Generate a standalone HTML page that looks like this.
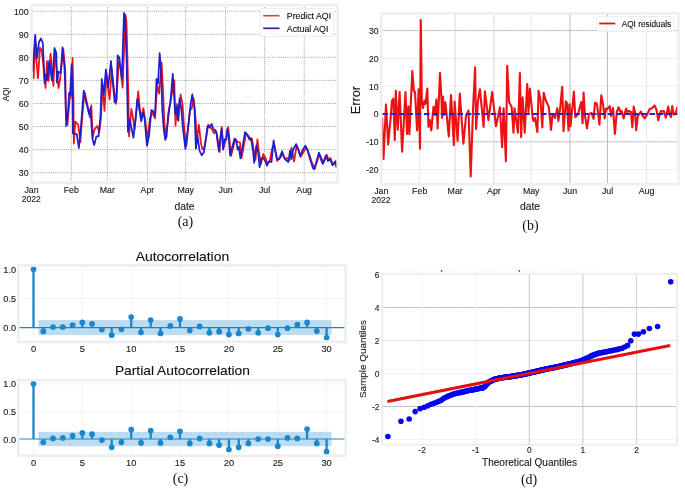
<!DOCTYPE html>
<html><head><meta charset="utf-8"><style>
html,body{margin:0;padding:0;background:#fff;width:685px;height:488px;overflow:hidden}
svg{display:block;filter:blur(0.3px)}
</style></head><body>
<svg width="685" height="488" viewBox="0 0 685 488"><g stroke="#8c8c8c" stroke-width="0.9" stroke-dasharray="0.9 1.25"><line x1="31.5" y1="172.7" x2="337.6" y2="172.7"/><line x1="31.5" y1="149.6" x2="337.6" y2="149.6"/><line x1="31.5" y1="126.5" x2="337.6" y2="126.5"/><line x1="31.5" y1="103.5" x2="337.6" y2="103.5"/><line x1="31.5" y1="80.4" x2="337.6" y2="80.4"/><line x1="31.5" y1="57.3" x2="337.6" y2="57.3"/><line x1="31.5" y1="34.3" x2="337.6" y2="34.3"/><line x1="31.5" y1="11.2" x2="337.6" y2="11.2"/><line x1="71.3" y1="5.0" x2="71.3" y2="182.7"/><line x1="107.3" y1="5.0" x2="107.3" y2="182.7"/><line x1="147.4" y1="5.0" x2="147.4" y2="182.7"/><line x1="185.7" y1="5.0" x2="185.7" y2="182.7"/><line x1="225.6" y1="5.0" x2="225.6" y2="182.7"/><line x1="264.6" y1="5.0" x2="264.6" y2="182.7"/><line x1="304.2" y1="5.0" x2="304.2" y2="182.7"/></g>
<polyline points="32.5,78.0 33.6,78.2 35.3,43.6 37.3,71.6 38.0,78.3 40.0,47.6 41.7,50.3 43.3,65.0 45.5,88.0 47.0,61.0 48.6,81.0 50.6,53.6 52.6,78.3 53.4,86.0 55.0,51.6 57.3,75.6 58.5,88.0 60.0,80.0 63.3,49.0 65.3,70.3 65.8,108.0 67.5,125.0 69.5,100.0 71.0,96.0 72.6,58.0 73.5,100.0 73.8,143.6 75.3,121.7 78.2,124.6 80.4,142.1 82.0,120.0 84.5,92.0 87.0,103.0 89.9,117.3 91.3,105.3 92.8,137.7 94.2,130.4 95.5,128.0 97.2,126.1 99.3,131.9 101.0,118.0 102.5,85.0 104.5,111.0 106.5,75.0 109.6,99.4 111.8,68.8 113.5,85.0 116.1,103.8 118.8,62.0 120.2,65.0 122.6,87.7 125.5,14.9 126.5,22.0 128.5,100.0 129.0,136.3 131.4,108.9 133.0,118.0 134.5,130.0 138.2,91.4 140.0,110.0 141.5,118.0 143.4,108.2 145.5,122.0 147.4,139.9 150.0,118.0 152.1,112.6 155.0,118.4 157.2,84.8 159.1,93.6 161.6,62.7 163.0,90.0 164.5,125.0 165.3,134.8 167.5,125.0 169.6,106.7 174.3,80.4 175.5,125.7 177.0,104.0 178.4,121.0 180.6,94.3 182.5,104.0 184.2,128.6 186.4,145.8 188.5,124.0 190.0,109.6 191.5,109.0 193.7,98.7 195.9,122.0 196.6,142.1 198.8,124.6 201.0,143.6 202.5,149.4 204.7,146.5 208.3,124.6 211.2,128.2 214.2,133.4 215.5,130.0 217.0,135.0 219.5,152.0 221.7,127.0 223.5,148.0 225.0,142.0 226.5,139.0 228.2,127.0 229.5,140.0 231.0,156.0 233.0,148.0 235.5,139.0 237.5,142.0 240.0,142.3 241.5,158.0 243.0,150.0 246.0,133.5 248.5,136.0 250.5,140.0 252.0,139.0 254.5,155.0 255.5,160.0 257.4,139.4 259.0,153.0 261.0,164.0 263.3,154.0 265.5,158.0 267.5,164.0 270.0,160.0 272.3,147.7 274.1,144.6 277.2,161.0 280.0,158.0 282.8,153.8 285.0,159.0 287.0,158.0 289.5,160.0 291.5,147.7 294.1,161.5 296.6,145.6 298.7,150.0 300.7,156.9 303.5,152.0 305.9,147.7 308.0,151.0 310.5,158.0 312.0,163.0 314.6,167.7 317.0,162.0 319.2,153.8 321.5,158.0 323.3,163.0 326.9,154.8 328.5,160.0 330.5,158.0 333.0,165.0 335.6,161.0 336.6,164.0" fill="none" stroke="#e81419" stroke-width="1.75" stroke-linejoin="round"/>
<polyline points="32.5,72.0 35.2,35.0 37.0,58.0 39.0,42.0 41.0,38.5 42.8,43.0 44.6,83.0 45.8,74.6 47.2,80.4 49.2,61.0 50.6,70.0 51.9,80.4 53.0,70.0 54.5,48.0 56.3,53.0 57.0,82.6 58.5,71.7 60.7,73.1 62.5,47.3 64.3,65.0 65.0,80.0 66.2,126.0 68.0,112.0 69.1,92.8 70.1,95.0 71.6,64.4 72.6,100.0 72.9,133.4 76.7,134.1 78.9,148.0 81.1,124.6 83.7,90.7 86.2,102.3 87.7,108.2 89.1,114.0 90.6,108.0 91.5,125.0 92.5,139.2 94.2,145.0 96.4,136.3 98.6,136.3 100.5,115.0 101.8,79.0 103.7,95.0 105.9,69.5 108.1,87.7 111.0,61.0 112.5,80.0 114.7,102.3 116.5,100.0 117.6,55.4 119.3,57.6 121.8,79.0 124.0,13.0 125.0,18.0 126.6,60.0 128.0,131.9 129.9,120.2 133.4,137.7 136.1,114.4 137.2,99.4 138.5,104.0 141.2,121.3 143.1,112.6 144.5,118.0 147.0,145.8 149.0,136.0 151.4,110.0 153.0,111.0 155.0,115.5 156.5,79.0 158.0,83.4 159.7,53.2 161.0,70.0 162.3,110.0 163.8,130.0 165.3,139.9 166.5,137.0 168.2,114.0 170.4,102.3 172.8,73.9 175.2,114.0 176.9,106.7 177.7,119.9 179.6,98.7 181.3,108.2 182.8,127.5 185.4,148.7 188.6,123.1 190.5,105.0 192.3,94.3 194.5,108.2 195.9,148.7 197.4,135.5 199.6,150.9 201.8,155.3 203.9,152.3 207.6,126.1 209.8,127.5 211.7,123.9 213.2,128.5 215.1,130.7 216.4,132.0 218.0,145.3 219.0,151.1 220.5,136.5 221.7,128.5 223.1,149.6 224.6,139.4 226.1,138.7 227.2,129.2 228.7,136.5 230.1,155.5 231.9,148.2 234.5,138.7 236.3,140.9 237.7,149.6 238.9,146.7 240.4,158.4 242.1,149.6 245.0,132.1 247.2,134.3 249.4,139.4 250.9,138.0 253.1,151.1 254.1,162.8 256.4,145.3 258.2,152.6 259.6,167.2 261.4,158.4 263.3,158.0 265.5,161.3 266.9,165.7 269.1,161.3 271.5,162.0 273.6,140.5 275.1,149.7 277.2,159.0 279.2,159.0 282.1,151.3 283.8,156.9 285.9,160.0 288.4,162.0 290.0,150.7 291.5,159.0 293.1,149.7 296.1,144.1 298.2,149.7 300.2,155.9 302.8,149.7 305.4,145.6 307.4,149.7 310.0,159.0 313.0,168.2 314.6,169.2 316.6,161.0 319.0,152.6 320.7,159.0 322.8,164.0 325.9,155.4 327.9,161.0 330.0,159.0 332.5,165.1 335.1,162.0 336.6,167.7" fill="none" stroke="#1e1ecf" stroke-width="1.75" stroke-linejoin="round"/>
<rect x="31.5" y="5.0" width="306.1" height="177.7" fill="none" stroke="#eeeeee" stroke-width="2.5"/>
<rect x="260" y="8.3" width="74" height="28" rx="2" fill="#fff" fill-opacity="0.85" stroke="#e4e4e4" stroke-width="0.8"/>
<line x1="263.2" y1="15.7" x2="279.5" y2="15.7" stroke="#e03a3a" stroke-width="1.6"/>
<line x1="263.2" y1="28.3" x2="279.5" y2="28.3" stroke="#25218a" stroke-width="1.6"/>
<text x="286.8" y="18.9" font-family='"Liberation Sans", sans-serif' font-size="8.4" fill="#111" stroke="#111" stroke-width="0.12" textLength="44.3" lengthAdjust="spacingAndGlyphs">Predict AQI</text>
<text x="286.8" y="31.5" font-family='"Liberation Sans", sans-serif' font-size="8.4" fill="#111" stroke="#111" stroke-width="0.12" textLength="41.6" lengthAdjust="spacingAndGlyphs">Actual AQI</text>
<text x="28.6" y="176.3" font-family='"Liberation Sans", sans-serif' font-size="8.8" fill="#1a1a1a" stroke="#1a1a1a" stroke-width="0.12" text-anchor="end">30</text>
<text x="28.6" y="153.3" font-family='"Liberation Sans", sans-serif' font-size="8.8" fill="#1a1a1a" stroke="#1a1a1a" stroke-width="0.12" text-anchor="end">40</text>
<text x="28.6" y="130.2" font-family='"Liberation Sans", sans-serif' font-size="8.8" fill="#1a1a1a" stroke="#1a1a1a" stroke-width="0.12" text-anchor="end">50</text>
<text x="28.6" y="107.1" font-family='"Liberation Sans", sans-serif' font-size="8.8" fill="#1a1a1a" stroke="#1a1a1a" stroke-width="0.12" text-anchor="end">60</text>
<text x="28.6" y="84.1" font-family='"Liberation Sans", sans-serif' font-size="8.8" fill="#1a1a1a" stroke="#1a1a1a" stroke-width="0.12" text-anchor="end">70</text>
<text x="28.6" y="61.0" font-family='"Liberation Sans", sans-serif' font-size="8.8" fill="#1a1a1a" stroke="#1a1a1a" stroke-width="0.12" text-anchor="end">80</text>
<text x="28.6" y="37.9" font-family='"Liberation Sans", sans-serif' font-size="8.8" fill="#1a1a1a" stroke="#1a1a1a" stroke-width="0.12" text-anchor="end">90</text>
<text x="28.6" y="14.8" font-family='"Liberation Sans", sans-serif' font-size="8.8" fill="#1a1a1a" stroke="#1a1a1a" stroke-width="0.12" text-anchor="end">100</text>
<text x="31.5" y="193.1" font-family='"Liberation Sans", sans-serif' font-size="8.8" fill="#1a1a1a" stroke="#1a1a1a" stroke-width="0.12" text-anchor="middle">Jan</text>
<text x="71.3" y="193.1" font-family='"Liberation Sans", sans-serif' font-size="8.8" fill="#1a1a1a" stroke="#1a1a1a" stroke-width="0.12" text-anchor="middle">Feb</text>
<text x="107.3" y="193.1" font-family='"Liberation Sans", sans-serif' font-size="8.8" fill="#1a1a1a" stroke="#1a1a1a" stroke-width="0.12" text-anchor="middle">Mar</text>
<text x="147.4" y="193.1" font-family='"Liberation Sans", sans-serif' font-size="8.8" fill="#1a1a1a" stroke="#1a1a1a" stroke-width="0.12" text-anchor="middle">Apr</text>
<text x="185.7" y="193.1" font-family='"Liberation Sans", sans-serif' font-size="8.8" fill="#1a1a1a" stroke="#1a1a1a" stroke-width="0.12" text-anchor="middle">May</text>
<text x="225.6" y="193.1" font-family='"Liberation Sans", sans-serif' font-size="8.8" fill="#1a1a1a" stroke="#1a1a1a" stroke-width="0.12" text-anchor="middle">Jun</text>
<text x="264.6" y="193.1" font-family='"Liberation Sans", sans-serif' font-size="8.8" fill="#1a1a1a" stroke="#1a1a1a" stroke-width="0.12" text-anchor="middle">Jul</text>
<text x="304.2" y="193.1" font-family='"Liberation Sans", sans-serif' font-size="8.8" fill="#1a1a1a" stroke="#1a1a1a" stroke-width="0.12" text-anchor="middle">Aug</text>
<text x="31.3" y="202.0" font-family='"Liberation Sans", sans-serif' font-size="8.6" fill="#1a1a1a" stroke="#1a1a1a" stroke-width="0.12" text-anchor="middle">2022</text>
<g transform="translate(9.1 94.2) rotate(-90)"><text x="0" y="0" font-family='"Liberation Sans", sans-serif' font-size="8.6" fill="#1a1a1a" stroke="#1a1a1a" stroke-width="0.12" text-anchor="middle" textLength="14" lengthAdjust="spacingAndGlyphs">AQI</text></g>
<text x="184.5" y="209.5" font-family='"Liberation Sans", sans-serif' font-size="10.4" fill="#1a1a1a" stroke="#1a1a1a" stroke-width="0.12" text-anchor="middle">date</text>
<text x="185.4" y="225.7" font-family='"Liberation Serif", serif' font-size="14" fill="#111" text-anchor="middle">(a)</text>
<line x1="381.3" y1="30.6" x2="678.5" y2="30.6" stroke="#9c9cae" stroke-width="0.8" stroke-dasharray="2.3 0.7"/>
<line x1="381.3" y1="58.4" x2="678.5" y2="58.4" stroke="#eeeef1" stroke-width="1"/>
<line x1="381.3" y1="86.2" x2="678.5" y2="86.2" stroke="#eeeef1" stroke-width="1"/>
<line x1="381.3" y1="114.0" x2="678.5" y2="114.0" stroke="#eeeef1" stroke-width="1"/>
<line x1="381.3" y1="141.8" x2="678.5" y2="141.8" stroke="#9c9cae" stroke-width="0.8" stroke-dasharray="2.3 0.7"/>
<line x1="381.3" y1="169.6" x2="678.5" y2="169.6" stroke="#eeeef1" stroke-width="1"/>
<line x1="419.7" y1="13.4" x2="419.7" y2="184.3" stroke="#e8e8ec" stroke-width="0.9"/>
<line x1="455.2" y1="13.4" x2="455.2" y2="184.3" stroke="#d2d2de" stroke-width="0.9"/>
<line x1="493.9" y1="13.4" x2="493.9" y2="184.3" stroke="#d2d2de" stroke-width="0.9"/>
<line x1="531.2" y1="13.4" x2="531.2" y2="184.3" stroke="#e8e8ec" stroke-width="0.9"/>
<line x1="570.0" y1="13.4" x2="570.0" y2="184.3" stroke="#b2b2c4" stroke-width="0.9"/>
<line x1="607.5" y1="13.4" x2="607.5" y2="184.3" stroke="#b2b2c4" stroke-width="0.9"/>
<line x1="646.5" y1="13.4" x2="646.5" y2="184.3" stroke="#e8e8ec" stroke-width="0.9"/>
<polyline points="382.1,118.0 383.5,159.0 386.0,104.5 388.2,144.4 389.7,127.0 390.4,121.0 391.9,101.0 393.3,98.7 394.8,140.0 395.8,90.7 397.7,129.8 399.6,92.1 402.1,151.7 405.5,92.1 407.0,134.0 408.4,106.4 409.4,134.2 412.3,71.0 413.8,90.7 415.0,92.0 417.1,130.5 418.6,89.2 420.0,148.8 420.8,20.0 421.8,100.9 423.0,108.0 424.4,100.9 425.5,104.0 427.3,88.5 428.4,126.9 429.8,120.0 431.3,130.5 433.5,106.7 435.0,115.0 436.4,99.4 437.6,128.4 440.0,72.8 441.5,100.0 442.0,118.0 443.0,96.5 444.0,115.0 445.4,102.3 448.8,136.4 451.0,95.0 453.9,145.1 454.6,101.6 457.6,140.8 459.8,93.6 463.4,143.7 466.0,116.0 468.5,110.4 470.7,176.5 473.0,110.0 475.1,67.3 476.1,129.0 478.0,100.9 479.9,89.2 483.6,127.0 484.9,91.4 486.8,106.7 488.4,120.0 492.2,92.1 494.1,109.6 496.0,126.3 499.9,107.4 502.1,147.3 503.6,108.2 505.9,161.2 507.2,65.8 509.1,102.3 511.6,106.7 513.5,132.7 514.5,108.2 517.9,132.7 519.9,73.1 521.1,137.1 522.6,97.2 524.7,132.7 527.2,84.1 528.5,112.0 529.9,88.5 532.8,118.4 533.5,121.0 535.0,118.0 537.4,132.0 538.6,90.7 540.5,100.0 542.3,127.4 543.7,92.8 546.0,101.0 548.8,106.7 551.0,129.8 552.5,114.0 555.0,118.0 557.3,108.2 558.3,121.0 560.0,110.0 562.2,86.7 563.5,131.2 565.8,101.3 567.0,103.0 568.5,130.5 569.5,104.2 570.5,126.1 573.9,91.8 575.3,117.3 578.0,114.0 581.2,102.0 582.6,123.2 583.6,92.5 585.0,116.0 587.0,128.3 589.0,114.0 591.5,113.0 593.6,118.8 595.0,102.7 597.0,104.0 599.4,124.6 601.3,95.4 603.0,104.0 604.7,118.4 606.0,108.5 607.5,109.0 609.7,106.0 611.0,116.0 613.0,107.9 614.9,134.0 616.8,112.0 618.6,107.3 620.5,112.0 621.7,111.0 623.6,118.4 626.1,108.5 627.3,112.0 629.0,111.0 631.0,112.0 632.3,127.1 633.7,106.6 635.0,112.0 636.2,130.2 637.8,116.0 639.7,113.5 640.9,111.6 642.8,116.0 644.7,118.4 647.0,114.7 649.6,109.1 651.5,108.5 654.6,105.4 656.5,110.0 658.3,120.3 660.8,111.0 662.7,111.6 663.9,111.0 665.8,117.8 668.2,106.6 669.5,113.5 671.0,117.2 672.2,106.0 673.8,114.7 675.7,113.5 677.5,106.6" fill="none" stroke="#ec1212" stroke-width="2.1" stroke-linejoin="round"/>
<line x1="382.3" y1="114" x2="678.5" y2="114" stroke="#2a22c0" stroke-width="2.1" stroke-dasharray="5.55 2.8"/>
<rect x="381.3" y="13.4" width="297.2" height="170.9" fill="none" stroke="#eeeeee" stroke-width="2.4"/>
<rect x="596.6" y="16.6" width="77.7" height="14.8" rx="2" fill="#fff" fill-opacity="0.85" stroke="#e6e6e6" stroke-width="0.8"/>
<line x1="599.2" y1="23.5" x2="615.3" y2="23.5" stroke="#d01a1a" stroke-width="1.8"/>
<text x="621.7" y="27.0" font-family='"Liberation Sans", sans-serif' font-size="8.4" fill="#111" stroke="#111" stroke-width="0.12" textLength="49.5" lengthAdjust="spacingAndGlyphs">AQI residuals</text>
<text x="378.6" y="33.9" font-family='"Liberation Sans", sans-serif' font-size="8.6" fill="#1a1a1a" stroke="#1a1a1a" stroke-width="0.12" text-anchor="end">30</text>
<text x="378.6" y="61.7" font-family='"Liberation Sans", sans-serif' font-size="8.6" fill="#1a1a1a" stroke="#1a1a1a" stroke-width="0.12" text-anchor="end">20</text>
<text x="378.6" y="89.5" font-family='"Liberation Sans", sans-serif' font-size="8.6" fill="#1a1a1a" stroke="#1a1a1a" stroke-width="0.12" text-anchor="end">10</text>
<text x="378.6" y="117.3" font-family='"Liberation Sans", sans-serif' font-size="8.6" fill="#1a1a1a" stroke="#1a1a1a" stroke-width="0.12" text-anchor="end">0</text>
<text x="378.6" y="145.1" font-family='"Liberation Sans", sans-serif' font-size="8.6" fill="#1a1a1a" stroke="#1a1a1a" stroke-width="0.12" text-anchor="end">-10</text>
<text x="378.6" y="172.9" font-family='"Liberation Sans", sans-serif' font-size="8.6" fill="#1a1a1a" stroke="#1a1a1a" stroke-width="0.12" text-anchor="end">-20</text>
<text x="381.3" y="194.3" font-family='"Liberation Sans", sans-serif' font-size="8.8" fill="#1a1a1a" stroke="#1a1a1a" stroke-width="0.12" text-anchor="middle">Jan</text>
<text x="419.7" y="194.3" font-family='"Liberation Sans", sans-serif' font-size="8.8" fill="#1a1a1a" stroke="#1a1a1a" stroke-width="0.12" text-anchor="middle">Feb</text>
<text x="455.2" y="194.3" font-family='"Liberation Sans", sans-serif' font-size="8.8" fill="#1a1a1a" stroke="#1a1a1a" stroke-width="0.12" text-anchor="middle">Mar</text>
<text x="493.9" y="194.3" font-family='"Liberation Sans", sans-serif' font-size="8.8" fill="#1a1a1a" stroke="#1a1a1a" stroke-width="0.12" text-anchor="middle">Apr</text>
<text x="531.2" y="194.3" font-family='"Liberation Sans", sans-serif' font-size="8.8" fill="#1a1a1a" stroke="#1a1a1a" stroke-width="0.12" text-anchor="middle">May</text>
<text x="570.0" y="194.3" font-family='"Liberation Sans", sans-serif' font-size="8.8" fill="#1a1a1a" stroke="#1a1a1a" stroke-width="0.12" text-anchor="middle">Jun</text>
<text x="607.5" y="194.3" font-family='"Liberation Sans", sans-serif' font-size="8.8" fill="#1a1a1a" stroke="#1a1a1a" stroke-width="0.12" text-anchor="middle">Jul</text>
<text x="646.5" y="194.3" font-family='"Liberation Sans", sans-serif' font-size="8.8" fill="#1a1a1a" stroke="#1a1a1a" stroke-width="0.12" text-anchor="middle">Aug</text>
<text x="381.1" y="203.4" font-family='"Liberation Sans", sans-serif' font-size="8.6" fill="#1a1a1a" stroke="#1a1a1a" stroke-width="0.12" text-anchor="middle">2022</text>
<g transform="translate(360.3 100.1) rotate(-90)"><text x="0" y="0" font-family='"Liberation Sans", sans-serif' font-size="12.6" fill="#1a1a1a" stroke="#1a1a1a" stroke-width="0.12" text-anchor="middle" textLength="28.5" lengthAdjust="spacingAndGlyphs">Error</text></g>
<text x="530" y="210.4" font-family='"Liberation Sans", sans-serif' font-size="10.4" fill="#1a1a1a" stroke="#1a1a1a" stroke-width="0.12" text-anchor="middle">date</text>
<text x="530.5" y="230.4" font-family='"Liberation Serif", serif' font-size="14" fill="#111" text-anchor="middle">(b)</text>
<line x1="33.5" y1="265.4" x2="33.5" y2="341.9" stroke="#f2f2f2" stroke-width="0.9"/>
<line x1="82.3" y1="265.4" x2="82.3" y2="341.9" stroke="#f2f2f2" stroke-width="0.9"/>
<line x1="131.2" y1="265.4" x2="131.2" y2="341.9" stroke="#f2f2f2" stroke-width="0.9"/>
<line x1="180.0" y1="265.4" x2="180.0" y2="341.9" stroke="#f2f2f2" stroke-width="0.9"/>
<line x1="228.9" y1="265.4" x2="228.9" y2="341.9" stroke="#f2f2f2" stroke-width="0.9"/>
<line x1="277.8" y1="265.4" x2="277.8" y2="341.9" stroke="#f2f2f2" stroke-width="0.9"/>
<line x1="326.6" y1="265.4" x2="326.6" y2="341.9" stroke="#f2f2f2" stroke-width="0.9"/>
<line x1="18.3" y1="298.5" x2="345.6" y2="298.5" stroke="#f2f2f2" stroke-width="0.9"/>
<line x1="18.3" y1="269.3" x2="345.6" y2="269.3" stroke="#f2f2f2" stroke-width="0.9"/>
<rect x="38.4" y="320.1" width="293.1" height="15.0" fill="#bcdcf1"/>
<line x1="18.3" y1="327.6" x2="345.6" y2="327.6" stroke="#1a86cc" stroke-width="1.1"/>
<line x1="33.5" y1="327.6" x2="33.5" y2="269.3" stroke="#1a86cc" stroke-width="2.3"/>
<circle cx="33.5" cy="269.3" r="2.85" fill="#1a86cc"/>
<line x1="43.3" y1="327.6" x2="43.3" y2="331.4" stroke="#1a86cc" stroke-width="2.3"/>
<circle cx="43.3" cy="331.4" r="2.85" fill="#1a86cc"/>
<line x1="53.0" y1="327.6" x2="53.0" y2="327.0" stroke="#1a86cc" stroke-width="2.3"/>
<circle cx="53.0" cy="327.0" r="2.85" fill="#1a86cc"/>
<line x1="62.8" y1="327.6" x2="62.8" y2="327.0" stroke="#1a86cc" stroke-width="2.3"/>
<circle cx="62.8" cy="327.0" r="2.85" fill="#1a86cc"/>
<line x1="72.6" y1="327.6" x2="72.6" y2="325.0" stroke="#1a86cc" stroke-width="2.3"/>
<circle cx="72.6" cy="325.0" r="2.85" fill="#1a86cc"/>
<line x1="82.3" y1="327.6" x2="82.3" y2="322.4" stroke="#1a86cc" stroke-width="2.3"/>
<circle cx="82.3" cy="322.4" r="2.85" fill="#1a86cc"/>
<line x1="92.1" y1="327.6" x2="92.1" y2="323.8" stroke="#1a86cc" stroke-width="2.3"/>
<circle cx="92.1" cy="323.8" r="2.85" fill="#1a86cc"/>
<line x1="101.9" y1="327.6" x2="101.9" y2="329.6" stroke="#1a86cc" stroke-width="2.3"/>
<circle cx="101.9" cy="329.6" r="2.85" fill="#1a86cc"/>
<line x1="111.7" y1="327.6" x2="111.7" y2="335.2" stroke="#1a86cc" stroke-width="2.3"/>
<circle cx="111.7" cy="335.2" r="2.85" fill="#1a86cc"/>
<line x1="121.4" y1="327.6" x2="121.4" y2="329.3" stroke="#1a86cc" stroke-width="2.3"/>
<circle cx="121.4" cy="329.3" r="2.85" fill="#1a86cc"/>
<line x1="131.2" y1="327.6" x2="131.2" y2="317.1" stroke="#1a86cc" stroke-width="2.3"/>
<circle cx="131.2" cy="317.1" r="2.85" fill="#1a86cc"/>
<line x1="141.0" y1="327.6" x2="141.0" y2="332.3" stroke="#1a86cc" stroke-width="2.3"/>
<circle cx="141.0" cy="332.3" r="2.85" fill="#1a86cc"/>
<line x1="150.7" y1="327.6" x2="150.7" y2="320.0" stroke="#1a86cc" stroke-width="2.3"/>
<circle cx="150.7" cy="320.0" r="2.85" fill="#1a86cc"/>
<line x1="160.5" y1="327.6" x2="160.5" y2="333.4" stroke="#1a86cc" stroke-width="2.3"/>
<circle cx="160.5" cy="333.4" r="2.85" fill="#1a86cc"/>
<line x1="170.3" y1="327.6" x2="170.3" y2="325.9" stroke="#1a86cc" stroke-width="2.3"/>
<circle cx="170.3" cy="325.9" r="2.85" fill="#1a86cc"/>
<line x1="180.0" y1="327.6" x2="180.0" y2="318.9" stroke="#1a86cc" stroke-width="2.3"/>
<circle cx="180.0" cy="318.9" r="2.85" fill="#1a86cc"/>
<line x1="189.8" y1="327.6" x2="189.8" y2="330.5" stroke="#1a86cc" stroke-width="2.3"/>
<circle cx="189.8" cy="330.5" r="2.85" fill="#1a86cc"/>
<line x1="199.6" y1="327.6" x2="199.6" y2="326.4" stroke="#1a86cc" stroke-width="2.3"/>
<circle cx="199.6" cy="326.4" r="2.85" fill="#1a86cc"/>
<line x1="209.4" y1="327.6" x2="209.4" y2="332.8" stroke="#1a86cc" stroke-width="2.3"/>
<circle cx="209.4" cy="332.8" r="2.85" fill="#1a86cc"/>
<line x1="219.1" y1="327.6" x2="219.1" y2="331.7" stroke="#1a86cc" stroke-width="2.3"/>
<circle cx="219.1" cy="331.7" r="2.85" fill="#1a86cc"/>
<line x1="228.9" y1="327.6" x2="228.9" y2="334.6" stroke="#1a86cc" stroke-width="2.3"/>
<circle cx="228.9" cy="334.6" r="2.85" fill="#1a86cc"/>
<line x1="238.7" y1="327.6" x2="238.7" y2="333.4" stroke="#1a86cc" stroke-width="2.3"/>
<circle cx="238.7" cy="333.4" r="2.85" fill="#1a86cc"/>
<line x1="248.4" y1="327.6" x2="248.4" y2="328.8" stroke="#1a86cc" stroke-width="2.3"/>
<circle cx="248.4" cy="328.8" r="2.85" fill="#1a86cc"/>
<line x1="258.2" y1="327.6" x2="258.2" y2="332.8" stroke="#1a86cc" stroke-width="2.3"/>
<circle cx="258.2" cy="332.8" r="2.85" fill="#1a86cc"/>
<line x1="268.0" y1="327.6" x2="268.0" y2="328.2" stroke="#1a86cc" stroke-width="2.3"/>
<circle cx="268.0" cy="328.2" r="2.85" fill="#1a86cc"/>
<line x1="277.8" y1="327.6" x2="277.8" y2="334.6" stroke="#1a86cc" stroke-width="2.3"/>
<circle cx="277.8" cy="334.6" r="2.85" fill="#1a86cc"/>
<line x1="287.5" y1="327.6" x2="287.5" y2="328.2" stroke="#1a86cc" stroke-width="2.3"/>
<circle cx="287.5" cy="328.2" r="2.85" fill="#1a86cc"/>
<line x1="297.3" y1="327.6" x2="297.3" y2="324.7" stroke="#1a86cc" stroke-width="2.3"/>
<circle cx="297.3" cy="324.7" r="2.85" fill="#1a86cc"/>
<line x1="307.1" y1="327.6" x2="307.1" y2="322.4" stroke="#1a86cc" stroke-width="2.3"/>
<circle cx="307.1" cy="322.4" r="2.85" fill="#1a86cc"/>
<line x1="316.8" y1="327.6" x2="316.8" y2="331.1" stroke="#1a86cc" stroke-width="2.3"/>
<circle cx="316.8" cy="331.1" r="2.85" fill="#1a86cc"/>
<line x1="326.6" y1="327.6" x2="326.6" y2="337.5" stroke="#1a86cc" stroke-width="2.3"/>
<circle cx="326.6" cy="337.5" r="2.85" fill="#1a86cc"/>
<rect x="18.3" y="265.4" width="327.3" height="76.5" fill="none" stroke="#eeeeee" stroke-width="2.6"/>
<text x="16.0" y="272.9" font-family='"Liberation Sans", sans-serif' font-size="9.1" fill="#1a1a1a" stroke="#1a1a1a" stroke-width="0.12" text-anchor="end">1.0</text>
<text x="16.0" y="302.1" font-family='"Liberation Sans", sans-serif' font-size="9.1" fill="#1a1a1a" stroke="#1a1a1a" stroke-width="0.12" text-anchor="end">0.5</text>
<text x="16.0" y="331.2" font-family='"Liberation Sans", sans-serif' font-size="9.1" fill="#1a1a1a" stroke="#1a1a1a" stroke-width="0.12" text-anchor="end">0.0</text>
<text x="33.5" y="351.7" font-family='"Liberation Sans", sans-serif' font-size="9.3" fill="#1a1a1a" stroke="#1a1a1a" stroke-width="0.12" text-anchor="middle">0</text>
<text x="82.3" y="351.7" font-family='"Liberation Sans", sans-serif' font-size="9.3" fill="#1a1a1a" stroke="#1a1a1a" stroke-width="0.12" text-anchor="middle">5</text>
<text x="131.2" y="351.7" font-family='"Liberation Sans", sans-serif' font-size="9.3" fill="#1a1a1a" stroke="#1a1a1a" stroke-width="0.12" text-anchor="middle">10</text>
<text x="180.0" y="351.7" font-family='"Liberation Sans", sans-serif' font-size="9.3" fill="#1a1a1a" stroke="#1a1a1a" stroke-width="0.12" text-anchor="middle">15</text>
<text x="228.9" y="351.7" font-family='"Liberation Sans", sans-serif' font-size="9.3" fill="#1a1a1a" stroke="#1a1a1a" stroke-width="0.12" text-anchor="middle">20</text>
<text x="277.8" y="351.7" font-family='"Liberation Sans", sans-serif' font-size="9.3" fill="#1a1a1a" stroke="#1a1a1a" stroke-width="0.12" text-anchor="middle">25</text>
<text x="326.6" y="351.7" font-family='"Liberation Sans", sans-serif' font-size="9.3" fill="#1a1a1a" stroke="#1a1a1a" stroke-width="0.12" text-anchor="middle">30</text>
<text x="182.4" y="260.7" font-family='"Liberation Sans", sans-serif' font-size="13.6" fill="#111" stroke="#111" stroke-width="0.12" text-anchor="middle" textLength="93.5" lengthAdjust="spacingAndGlyphs">Autocorrelation</text>
<line x1="33.5" y1="380.0" x2="33.5" y2="455.6" stroke="#f2f2f2" stroke-width="0.9"/>
<line x1="82.3" y1="380.0" x2="82.3" y2="455.6" stroke="#f2f2f2" stroke-width="0.9"/>
<line x1="131.2" y1="380.0" x2="131.2" y2="455.6" stroke="#f2f2f2" stroke-width="0.9"/>
<line x1="180.0" y1="380.0" x2="180.0" y2="455.6" stroke="#f2f2f2" stroke-width="0.9"/>
<line x1="228.9" y1="380.0" x2="228.9" y2="455.6" stroke="#f2f2f2" stroke-width="0.9"/>
<line x1="277.8" y1="380.0" x2="277.8" y2="455.6" stroke="#f2f2f2" stroke-width="0.9"/>
<line x1="326.6" y1="380.0" x2="326.6" y2="455.6" stroke="#f2f2f2" stroke-width="0.9"/>
<line x1="18.3" y1="411.4" x2="345.6" y2="411.4" stroke="#f2f2f2" stroke-width="0.9"/>
<line x1="18.3" y1="383.8" x2="345.6" y2="383.8" stroke="#f2f2f2" stroke-width="0.9"/>
<rect x="38.4" y="431.8" width="293.1" height="14.4" fill="#bcdcf1"/>
<line x1="18.3" y1="439.0" x2="345.6" y2="439.0" stroke="#1a86cc" stroke-width="1.1"/>
<line x1="33.5" y1="439.0" x2="33.5" y2="383.8" stroke="#1a86cc" stroke-width="2.3"/>
<circle cx="33.5" cy="383.8" r="2.85" fill="#1a86cc"/>
<line x1="43.3" y1="439.0" x2="43.3" y2="442.3" stroke="#1a86cc" stroke-width="2.3"/>
<circle cx="43.3" cy="442.3" r="2.85" fill="#1a86cc"/>
<line x1="53.0" y1="439.0" x2="53.0" y2="438.4" stroke="#1a86cc" stroke-width="2.3"/>
<circle cx="53.0" cy="438.4" r="2.85" fill="#1a86cc"/>
<line x1="62.8" y1="439.0" x2="62.8" y2="437.9" stroke="#1a86cc" stroke-width="2.3"/>
<circle cx="62.8" cy="437.9" r="2.85" fill="#1a86cc"/>
<line x1="72.6" y1="439.0" x2="72.6" y2="435.7" stroke="#1a86cc" stroke-width="2.3"/>
<circle cx="72.6" cy="435.7" r="2.85" fill="#1a86cc"/>
<line x1="82.3" y1="439.0" x2="82.3" y2="432.9" stroke="#1a86cc" stroke-width="2.3"/>
<circle cx="82.3" cy="432.9" r="2.85" fill="#1a86cc"/>
<line x1="92.1" y1="439.0" x2="92.1" y2="434.0" stroke="#1a86cc" stroke-width="2.3"/>
<circle cx="92.1" cy="434.0" r="2.85" fill="#1a86cc"/>
<line x1="101.9" y1="439.0" x2="101.9" y2="440.1" stroke="#1a86cc" stroke-width="2.3"/>
<circle cx="101.9" cy="440.1" r="2.85" fill="#1a86cc"/>
<line x1="111.7" y1="439.0" x2="111.7" y2="447.3" stroke="#1a86cc" stroke-width="2.3"/>
<circle cx="111.7" cy="447.3" r="2.85" fill="#1a86cc"/>
<line x1="121.4" y1="439.0" x2="121.4" y2="442.3" stroke="#1a86cc" stroke-width="2.3"/>
<circle cx="121.4" cy="442.3" r="2.85" fill="#1a86cc"/>
<line x1="131.2" y1="439.0" x2="131.2" y2="429.6" stroke="#1a86cc" stroke-width="2.3"/>
<circle cx="131.2" cy="429.6" r="2.85" fill="#1a86cc"/>
<line x1="141.0" y1="439.0" x2="141.0" y2="442.9" stroke="#1a86cc" stroke-width="2.3"/>
<circle cx="141.0" cy="442.9" r="2.85" fill="#1a86cc"/>
<line x1="150.7" y1="439.0" x2="150.7" y2="430.7" stroke="#1a86cc" stroke-width="2.3"/>
<circle cx="150.7" cy="430.7" r="2.85" fill="#1a86cc"/>
<line x1="160.5" y1="439.0" x2="160.5" y2="442.9" stroke="#1a86cc" stroke-width="2.3"/>
<circle cx="160.5" cy="442.9" r="2.85" fill="#1a86cc"/>
<line x1="170.3" y1="439.0" x2="170.3" y2="437.3" stroke="#1a86cc" stroke-width="2.3"/>
<circle cx="170.3" cy="437.3" r="2.85" fill="#1a86cc"/>
<line x1="180.0" y1="439.0" x2="180.0" y2="431.3" stroke="#1a86cc" stroke-width="2.3"/>
<circle cx="180.0" cy="431.3" r="2.85" fill="#1a86cc"/>
<line x1="189.8" y1="439.0" x2="189.8" y2="443.4" stroke="#1a86cc" stroke-width="2.3"/>
<circle cx="189.8" cy="443.4" r="2.85" fill="#1a86cc"/>
<line x1="199.6" y1="439.0" x2="199.6" y2="438.4" stroke="#1a86cc" stroke-width="2.3"/>
<circle cx="199.6" cy="438.4" r="2.85" fill="#1a86cc"/>
<line x1="209.4" y1="439.0" x2="209.4" y2="443.4" stroke="#1a86cc" stroke-width="2.3"/>
<circle cx="209.4" cy="443.4" r="2.85" fill="#1a86cc"/>
<line x1="219.1" y1="439.0" x2="219.1" y2="445.1" stroke="#1a86cc" stroke-width="2.3"/>
<circle cx="219.1" cy="445.1" r="2.85" fill="#1a86cc"/>
<line x1="228.9" y1="439.0" x2="228.9" y2="449.5" stroke="#1a86cc" stroke-width="2.3"/>
<circle cx="228.9" cy="449.5" r="2.85" fill="#1a86cc"/>
<line x1="238.7" y1="439.0" x2="238.7" y2="447.3" stroke="#1a86cc" stroke-width="2.3"/>
<circle cx="238.7" cy="447.3" r="2.85" fill="#1a86cc"/>
<line x1="248.4" y1="439.0" x2="248.4" y2="443.4" stroke="#1a86cc" stroke-width="2.3"/>
<circle cx="248.4" cy="443.4" r="2.85" fill="#1a86cc"/>
<line x1="258.2" y1="439.0" x2="258.2" y2="439.0" stroke="#1a86cc" stroke-width="2.3"/>
<circle cx="258.2" cy="439.0" r="2.85" fill="#1a86cc"/>
<line x1="268.0" y1="439.0" x2="268.0" y2="439.0" stroke="#1a86cc" stroke-width="2.3"/>
<circle cx="268.0" cy="439.0" r="2.85" fill="#1a86cc"/>
<line x1="277.8" y1="439.0" x2="277.8" y2="446.2" stroke="#1a86cc" stroke-width="2.3"/>
<circle cx="277.8" cy="446.2" r="2.85" fill="#1a86cc"/>
<line x1="287.5" y1="439.0" x2="287.5" y2="437.9" stroke="#1a86cc" stroke-width="2.3"/>
<circle cx="287.5" cy="437.9" r="2.85" fill="#1a86cc"/>
<line x1="297.3" y1="439.0" x2="297.3" y2="438.4" stroke="#1a86cc" stroke-width="2.3"/>
<circle cx="297.3" cy="438.4" r="2.85" fill="#1a86cc"/>
<line x1="307.1" y1="439.0" x2="307.1" y2="429.1" stroke="#1a86cc" stroke-width="2.3"/>
<circle cx="307.1" cy="429.1" r="2.85" fill="#1a86cc"/>
<line x1="316.8" y1="439.0" x2="316.8" y2="443.4" stroke="#1a86cc" stroke-width="2.3"/>
<circle cx="316.8" cy="443.4" r="2.85" fill="#1a86cc"/>
<line x1="326.6" y1="439.0" x2="326.6" y2="451.7" stroke="#1a86cc" stroke-width="2.3"/>
<circle cx="326.6" cy="451.7" r="2.85" fill="#1a86cc"/>
<rect x="18.3" y="380.0" width="327.3" height="75.6" fill="none" stroke="#eeeeee" stroke-width="2.6"/>
<text x="16.0" y="387.4" font-family='"Liberation Sans", sans-serif' font-size="9.1" fill="#1a1a1a" stroke="#1a1a1a" stroke-width="0.12" text-anchor="end">1.0</text>
<text x="16.0" y="415.0" font-family='"Liberation Sans", sans-serif' font-size="9.1" fill="#1a1a1a" stroke="#1a1a1a" stroke-width="0.12" text-anchor="end">0.5</text>
<text x="16.0" y="442.6" font-family='"Liberation Sans", sans-serif' font-size="9.1" fill="#1a1a1a" stroke="#1a1a1a" stroke-width="0.12" text-anchor="end">0.0</text>
<text x="33.5" y="466.4" font-family='"Liberation Sans", sans-serif' font-size="9.3" fill="#1a1a1a" stroke="#1a1a1a" stroke-width="0.12" text-anchor="middle">0</text>
<text x="82.3" y="466.4" font-family='"Liberation Sans", sans-serif' font-size="9.3" fill="#1a1a1a" stroke="#1a1a1a" stroke-width="0.12" text-anchor="middle">5</text>
<text x="131.2" y="466.4" font-family='"Liberation Sans", sans-serif' font-size="9.3" fill="#1a1a1a" stroke="#1a1a1a" stroke-width="0.12" text-anchor="middle">10</text>
<text x="180.0" y="466.4" font-family='"Liberation Sans", sans-serif' font-size="9.3" fill="#1a1a1a" stroke="#1a1a1a" stroke-width="0.12" text-anchor="middle">15</text>
<text x="228.9" y="466.4" font-family='"Liberation Sans", sans-serif' font-size="9.3" fill="#1a1a1a" stroke="#1a1a1a" stroke-width="0.12" text-anchor="middle">20</text>
<text x="277.8" y="466.4" font-family='"Liberation Sans", sans-serif' font-size="9.3" fill="#1a1a1a" stroke="#1a1a1a" stroke-width="0.12" text-anchor="middle">25</text>
<text x="326.6" y="466.4" font-family='"Liberation Sans", sans-serif' font-size="9.3" fill="#1a1a1a" stroke="#1a1a1a" stroke-width="0.12" text-anchor="middle">30</text>
<text x="182.4" y="374.9" font-family='"Liberation Sans", sans-serif' font-size="13.6" fill="#111" stroke="#111" stroke-width="0.12" text-anchor="middle" textLength="135" lengthAdjust="spacingAndGlyphs">Partial Autocorrelation</text>
<text x="180.5" y="482.6" font-family='"Liberation Serif", serif' font-size="14" fill="#111" text-anchor="middle">(c)</text>
<line x1="382.2" y1="307.5" x2="677.0" y2="307.5" stroke="#9c9cae" stroke-width="0.8" stroke-dasharray="2.3 0.7"/>
<line x1="382.2" y1="340.5" x2="677.0" y2="340.5" stroke="#dcdce4" stroke-width="0.9"/>
<line x1="382.2" y1="373.5" x2="677.0" y2="373.5" stroke="#efeff2" stroke-width="0.9"/>
<line x1="382.2" y1="406.5" x2="677.0" y2="406.5" stroke="#9c9cae" stroke-width="0.8" stroke-dasharray="2.3 0.7"/>
<line x1="382.2" y1="439.5" x2="677.0" y2="439.5" stroke="#efeff2" stroke-width="0.9"/>
<line x1="382.2" y1="274.5" x2="677.0" y2="274.5" stroke="#efeff2" stroke-width="0.9"/>
<line x1="422.1" y1="273.8" x2="422.1" y2="444.7" stroke="#f3f3f6" stroke-width="0.9"/>
<line x1="475.7" y1="273.8" x2="475.7" y2="444.7" stroke="#f3f3f6" stroke-width="0.9"/>
<line x1="529.3" y1="273.8" x2="529.3" y2="444.7" stroke="#bcbccc" stroke-width="0.9"/>
<line x1="582.9" y1="273.8" x2="582.9" y2="444.7" stroke="#bcbccc" stroke-width="0.9"/>
<line x1="636.5" y1="273.8" x2="636.5" y2="444.7" stroke="#d0d0dc" stroke-width="0.9"/>
<g fill="#0404ec"><circle cx="387.9" cy="436.5" r="2.8"/><circle cx="401.0" cy="421.2" r="2.8"/><circle cx="409.2" cy="419.0" r="2.8"/><circle cx="415.2" cy="411.6" r="2.8"/><circle cx="420.1" cy="408.6" r="2.8"/><circle cx="424.2" cy="407.3" r="2.8"/><circle cx="427.8" cy="405.7" r="2.8"/><circle cx="431.0" cy="404.3" r="2.8"/><circle cx="433.9" cy="403.2" r="2.8"/><circle cx="436.5" cy="402.2" r="2.8"/><circle cx="438.9" cy="401.3" r="2.8"/><circle cx="441.1" cy="400.3" r="2.8"/><circle cx="443.2" cy="398.8" r="2.8"/><circle cx="445.2" cy="397.5" r="2.8"/><circle cx="447.1" cy="396.7" r="2.8"/><circle cx="448.8" cy="395.9" r="2.8"/><circle cx="450.5" cy="395.2" r="2.8"/><circle cx="452.1" cy="394.6" r="2.8"/><circle cx="453.7" cy="394.0" r="2.8"/><circle cx="455.2" cy="393.6" r="2.8"/><circle cx="456.6" cy="393.3" r="2.8"/><circle cx="458.0" cy="393.0" r="2.8"/><circle cx="459.3" cy="392.7" r="2.8"/><circle cx="460.6" cy="392.4" r="2.8"/><circle cx="461.9" cy="392.2" r="2.8"/><circle cx="463.1" cy="391.9" r="2.8"/><circle cx="464.3" cy="391.6" r="2.8"/><circle cx="465.4" cy="391.3" r="2.8"/><circle cx="466.5" cy="391.0" r="2.8"/><circle cx="467.6" cy="390.7" r="2.8"/><circle cx="468.7" cy="390.5" r="2.8"/><circle cx="469.8" cy="390.2" r="2.8"/><circle cx="470.8" cy="390.1" r="2.8"/><circle cx="471.8" cy="389.9" r="2.8"/><circle cx="472.8" cy="389.7" r="2.8"/><circle cx="473.7" cy="389.5" r="2.8"/><circle cx="474.7" cy="389.4" r="2.8"/><circle cx="475.6" cy="389.2" r="2.8"/><circle cx="476.5" cy="389.0" r="2.8"/><circle cx="477.4" cy="388.8" r="2.8"/><circle cx="478.3" cy="388.6" r="2.8"/><circle cx="479.2" cy="388.5" r="2.8"/><circle cx="480.1" cy="388.3" r="2.8"/><circle cx="480.9" cy="388.1" r="2.8"/><circle cx="481.7" cy="387.9" r="2.8"/><circle cx="482.6" cy="387.8" r="2.8"/><circle cx="483.4" cy="387.6" r="2.8"/><circle cx="484.2" cy="387.0" r="2.8"/><circle cx="485.0" cy="386.2" r="2.8"/><circle cx="485.8" cy="385.3" r="2.8"/><circle cx="486.5" cy="384.5" r="2.8"/><circle cx="487.3" cy="383.6" r="2.8"/><circle cx="488.1" cy="382.8" r="2.8"/><circle cx="488.8" cy="382.1" r="2.8"/><circle cx="489.6" cy="381.8" r="2.8"/><circle cx="490.3" cy="381.4" r="2.8"/><circle cx="491.0" cy="381.0" r="2.8"/><circle cx="491.7" cy="380.7" r="2.8"/><circle cx="492.4" cy="380.3" r="2.8"/><circle cx="493.1" cy="380.0" r="2.8"/><circle cx="493.8" cy="379.6" r="2.8"/><circle cx="494.5" cy="379.4" r="2.8"/><circle cx="495.2" cy="379.2" r="2.8"/><circle cx="495.9" cy="379.0" r="2.8"/><circle cx="496.6" cy="378.9" r="2.8"/><circle cx="497.3" cy="378.7" r="2.8"/><circle cx="497.9" cy="378.5" r="2.8"/><circle cx="498.6" cy="378.3" r="2.8"/><circle cx="499.2" cy="378.1" r="2.8"/><circle cx="499.9" cy="377.9" r="2.8"/><circle cx="500.5" cy="377.9" r="2.8"/><circle cx="501.2" cy="377.8" r="2.8"/><circle cx="501.8" cy="377.7" r="2.8"/><circle cx="502.5" cy="377.6" r="2.8"/><circle cx="503.1" cy="377.5" r="2.8"/><circle cx="503.7" cy="377.5" r="2.8"/><circle cx="504.4" cy="377.4" r="2.8"/><circle cx="505.0" cy="377.3" r="2.8"/><circle cx="505.6" cy="377.2" r="2.8"/><circle cx="506.2" cy="377.1" r="2.8"/><circle cx="506.8" cy="377.1" r="2.8"/><circle cx="507.4" cy="377.0" r="2.8"/><circle cx="508.0" cy="376.9" r="2.8"/><circle cx="508.6" cy="376.8" r="2.8"/><circle cx="509.2" cy="376.8" r="2.8"/><circle cx="509.8" cy="376.7" r="2.8"/><circle cx="510.4" cy="376.6" r="2.8"/><circle cx="511.0" cy="376.5" r="2.8"/><circle cx="511.6" cy="376.4" r="2.8"/><circle cx="512.2" cy="376.3" r="2.8"/><circle cx="512.8" cy="376.2" r="2.8"/><circle cx="513.4" cy="376.1" r="2.8"/><circle cx="514.0" cy="376.0" r="2.8"/><circle cx="514.6" cy="375.9" r="2.8"/><circle cx="515.1" cy="375.8" r="2.8"/><circle cx="515.7" cy="375.7" r="2.8"/><circle cx="516.3" cy="375.6" r="2.8"/><circle cx="516.9" cy="375.5" r="2.8"/><circle cx="517.4" cy="375.4" r="2.8"/><circle cx="518.0" cy="375.3" r="2.8"/><circle cx="518.6" cy="375.2" r="2.8"/><circle cx="519.2" cy="375.1" r="2.8"/><circle cx="519.7" cy="375.0" r="2.8"/><circle cx="520.3" cy="374.9" r="2.8"/><circle cx="520.9" cy="374.8" r="2.8"/><circle cx="521.4" cy="374.7" r="2.8"/><circle cx="522.0" cy="374.6" r="2.8"/><circle cx="522.6" cy="374.5" r="2.8"/><circle cx="523.1" cy="374.4" r="2.8"/><circle cx="523.7" cy="374.2" r="2.8"/><circle cx="524.3" cy="374.1" r="2.8"/><circle cx="524.8" cy="374.0" r="2.8"/><circle cx="525.4" cy="373.9" r="2.8"/><circle cx="525.9" cy="373.7" r="2.8"/><circle cx="526.5" cy="373.6" r="2.8"/><circle cx="527.1" cy="373.5" r="2.8"/><circle cx="527.6" cy="373.4" r="2.8"/><circle cx="528.2" cy="373.2" r="2.8"/><circle cx="528.7" cy="373.1" r="2.8"/><circle cx="529.3" cy="373.0" r="2.8"/><circle cx="529.9" cy="372.9" r="2.8"/><circle cx="530.4" cy="372.7" r="2.8"/><circle cx="531.0" cy="372.6" r="2.8"/><circle cx="531.5" cy="372.5" r="2.8"/><circle cx="532.1" cy="372.3" r="2.8"/><circle cx="532.7" cy="372.2" r="2.8"/><circle cx="533.2" cy="372.1" r="2.8"/><circle cx="533.8" cy="372.0" r="2.8"/><circle cx="534.3" cy="371.8" r="2.8"/><circle cx="534.9" cy="371.7" r="2.8"/><circle cx="535.5" cy="371.6" r="2.8"/><circle cx="536.0" cy="371.4" r="2.8"/><circle cx="536.6" cy="371.3" r="2.8"/><circle cx="537.2" cy="371.2" r="2.8"/><circle cx="537.7" cy="371.0" r="2.8"/><circle cx="538.3" cy="370.9" r="2.8"/><circle cx="538.9" cy="370.8" r="2.8"/><circle cx="539.4" cy="370.6" r="2.8"/><circle cx="540.0" cy="370.5" r="2.8"/><circle cx="540.6" cy="370.4" r="2.8"/><circle cx="541.2" cy="370.2" r="2.8"/><circle cx="541.7" cy="370.1" r="2.8"/><circle cx="542.3" cy="369.9" r="2.8"/><circle cx="542.9" cy="369.8" r="2.8"/><circle cx="543.5" cy="369.7" r="2.8"/><circle cx="544.0" cy="369.5" r="2.8"/><circle cx="544.6" cy="369.4" r="2.8"/><circle cx="545.2" cy="369.3" r="2.8"/><circle cx="545.8" cy="369.1" r="2.8"/><circle cx="546.4" cy="369.0" r="2.8"/><circle cx="547.0" cy="368.9" r="2.8"/><circle cx="547.6" cy="368.8" r="2.8"/><circle cx="548.2" cy="368.7" r="2.8"/><circle cx="548.8" cy="368.5" r="2.8"/><circle cx="549.4" cy="368.4" r="2.8"/><circle cx="550.0" cy="368.3" r="2.8"/><circle cx="550.6" cy="368.2" r="2.8"/><circle cx="551.2" cy="368.1" r="2.8"/><circle cx="551.8" cy="368.0" r="2.8"/><circle cx="552.4" cy="367.8" r="2.8"/><circle cx="553.0" cy="367.7" r="2.8"/><circle cx="553.6" cy="367.6" r="2.8"/><circle cx="554.2" cy="367.5" r="2.8"/><circle cx="554.9" cy="367.4" r="2.8"/><circle cx="555.5" cy="367.2" r="2.8"/><circle cx="556.1" cy="367.1" r="2.8"/><circle cx="556.8" cy="367.0" r="2.8"/><circle cx="557.4" cy="366.8" r="2.8"/><circle cx="558.1" cy="366.7" r="2.8"/><circle cx="558.7" cy="366.5" r="2.8"/><circle cx="559.4" cy="366.4" r="2.8"/><circle cx="560.0" cy="366.2" r="2.8"/><circle cx="560.7" cy="366.1" r="2.8"/><circle cx="561.3" cy="365.9" r="2.8"/><circle cx="562.0" cy="365.7" r="2.8"/><circle cx="562.7" cy="365.6" r="2.8"/><circle cx="563.4" cy="365.4" r="2.8"/><circle cx="564.1" cy="365.3" r="2.8"/><circle cx="564.8" cy="365.1" r="2.8"/><circle cx="565.5" cy="364.9" r="2.8"/><circle cx="566.2" cy="364.8" r="2.8"/><circle cx="566.9" cy="364.6" r="2.8"/><circle cx="567.6" cy="364.4" r="2.8"/><circle cx="568.3" cy="364.2" r="2.8"/><circle cx="569.0" cy="364.1" r="2.8"/><circle cx="569.8" cy="363.9" r="2.8"/><circle cx="570.5" cy="363.7" r="2.8"/><circle cx="571.3" cy="363.5" r="2.8"/><circle cx="572.1" cy="363.3" r="2.8"/><circle cx="572.8" cy="363.1" r="2.8"/><circle cx="573.6" cy="362.9" r="2.8"/><circle cx="574.4" cy="362.6" r="2.8"/><circle cx="575.2" cy="362.4" r="2.8"/><circle cx="576.0" cy="362.2" r="2.8"/><circle cx="576.9" cy="362.0" r="2.8"/><circle cx="577.7" cy="361.8" r="2.8"/><circle cx="578.5" cy="361.6" r="2.8"/><circle cx="579.4" cy="361.3" r="2.8"/><circle cx="580.3" cy="361.1" r="2.8"/><circle cx="581.2" cy="360.8" r="2.8"/><circle cx="582.1" cy="360.4" r="2.8"/><circle cx="583.0" cy="360.0" r="2.8"/><circle cx="583.9" cy="359.6" r="2.8"/><circle cx="584.9" cy="359.1" r="2.8"/><circle cx="585.8" cy="358.7" r="2.8"/><circle cx="586.8" cy="358.2" r="2.8"/><circle cx="587.8" cy="357.7" r="2.8"/><circle cx="588.8" cy="357.2" r="2.8"/><circle cx="589.9" cy="356.7" r="2.8"/><circle cx="591.0" cy="356.1" r="2.8"/><circle cx="592.1" cy="355.6" r="2.8"/><circle cx="593.2" cy="355.1" r="2.8"/><circle cx="594.3" cy="354.7" r="2.8"/><circle cx="595.5" cy="354.3" r="2.8"/><circle cx="596.7" cy="353.8" r="2.8"/><circle cx="598.0" cy="353.4" r="2.8"/><circle cx="599.3" cy="353.1" r="2.8"/><circle cx="600.6" cy="352.8" r="2.8"/><circle cx="602.0" cy="352.6" r="2.8"/><circle cx="603.4" cy="352.3" r="2.8"/><circle cx="604.9" cy="352.0" r="2.8"/><circle cx="606.5" cy="351.7" r="2.8"/><circle cx="608.1" cy="351.3" r="2.8"/><circle cx="609.8" cy="351.0" r="2.8"/><circle cx="611.5" cy="350.6" r="2.8"/><circle cx="613.4" cy="350.2" r="2.8"/><circle cx="615.4" cy="349.8" r="2.8"/><circle cx="617.5" cy="349.4" r="2.8"/><circle cx="619.7" cy="348.8" r="2.8"/><circle cx="622.1" cy="348.2" r="2.8"/><circle cx="624.7" cy="347.0" r="2.8"/><circle cx="627.6" cy="345.4" r="2.8"/><circle cx="630.8" cy="340.7" r="2.8"/><circle cx="634.4" cy="334.1" r="2.8"/><circle cx="638.5" cy="334.1" r="2.8"/><circle cx="643.4" cy="331.8" r="2.8"/><circle cx="649.4" cy="328.5" r="2.8"/><circle cx="657.6" cy="326.5" r="2.8"/><circle cx="670.7" cy="281.8" r="2.8"/></g>
<line x1="387.4" y1="401.4" x2="670.1" y2="345.4" stroke="#e41010" stroke-width="3.1"/>
<rect x="382.2" y="273.8" width="294.8" height="170.9" fill="none" stroke="#eeeeee" stroke-width="2"/>
<text x="379.4" y="277.8" font-family='"Liberation Sans", sans-serif' font-size="8.4" fill="#1a1a1a" stroke="#1a1a1a" stroke-width="0.12" text-anchor="end">6</text>
<text x="379.4" y="310.8" font-family='"Liberation Sans", sans-serif' font-size="8.4" fill="#1a1a1a" stroke="#1a1a1a" stroke-width="0.12" text-anchor="end">4</text>
<text x="379.4" y="343.8" font-family='"Liberation Sans", sans-serif' font-size="8.4" fill="#1a1a1a" stroke="#1a1a1a" stroke-width="0.12" text-anchor="end">2</text>
<text x="379.4" y="376.8" font-family='"Liberation Sans", sans-serif' font-size="8.4" fill="#1a1a1a" stroke="#1a1a1a" stroke-width="0.12" text-anchor="end">0</text>
<text x="379.4" y="409.8" font-family='"Liberation Sans", sans-serif' font-size="8.4" fill="#1a1a1a" stroke="#1a1a1a" stroke-width="0.12" text-anchor="end">-2</text>
<text x="379.4" y="442.8" font-family='"Liberation Sans", sans-serif' font-size="8.4" fill="#1a1a1a" stroke="#1a1a1a" stroke-width="0.12" text-anchor="end">-4</text>
<text x="422.1" y="453.4" font-family='"Liberation Sans", sans-serif' font-size="8.4" fill="#1a1a1a" stroke="#1a1a1a" stroke-width="0.12" text-anchor="middle">-2</text>
<text x="475.7" y="453.4" font-family='"Liberation Sans", sans-serif' font-size="8.4" fill="#1a1a1a" stroke="#1a1a1a" stroke-width="0.12" text-anchor="middle">-1</text>
<text x="529.3" y="453.4" font-family='"Liberation Sans", sans-serif' font-size="8.4" fill="#1a1a1a" stroke="#1a1a1a" stroke-width="0.12" text-anchor="middle">0</text>
<text x="582.9" y="453.4" font-family='"Liberation Sans", sans-serif' font-size="8.4" fill="#1a1a1a" stroke="#1a1a1a" stroke-width="0.12" text-anchor="middle">1</text>
<text x="636.5" y="453.4" font-family='"Liberation Sans", sans-serif' font-size="8.4" fill="#1a1a1a" stroke="#1a1a1a" stroke-width="0.12" text-anchor="middle">2</text>
<g transform="translate(366 359) rotate(-90)"><text x="0" y="0" font-family='"Liberation Sans", sans-serif' font-size="9.9" fill="#1a1a1a" stroke="#1a1a1a" stroke-width="0.12" text-anchor="middle" textLength="78" lengthAdjust="spacingAndGlyphs">Sample Quantiles</text></g>
<text x="529.5" y="466" font-family='"Liberation Sans", sans-serif' font-size="10" fill="#1a1a1a" stroke="#1a1a1a" stroke-width="0.12" text-anchor="middle" textLength="95" lengthAdjust="spacingAndGlyphs">Theoretical Quantiles</text>
<text x="529.1" y="484" font-family='"Liberation Serif", serif' font-size="14" fill="#111" text-anchor="middle">(d)</text>
<line x1="400" y1="270.9" x2="600" y2="270.9" stroke="#e8e8e8" stroke-width="0.8" stroke-dasharray="1 1.5"/>
<circle cx="441.6" cy="270.9" r="0.8" fill="#333"/><circle cx="519.2" cy="270.9" r="0.8" fill="#333"/></svg>
</body></html>
